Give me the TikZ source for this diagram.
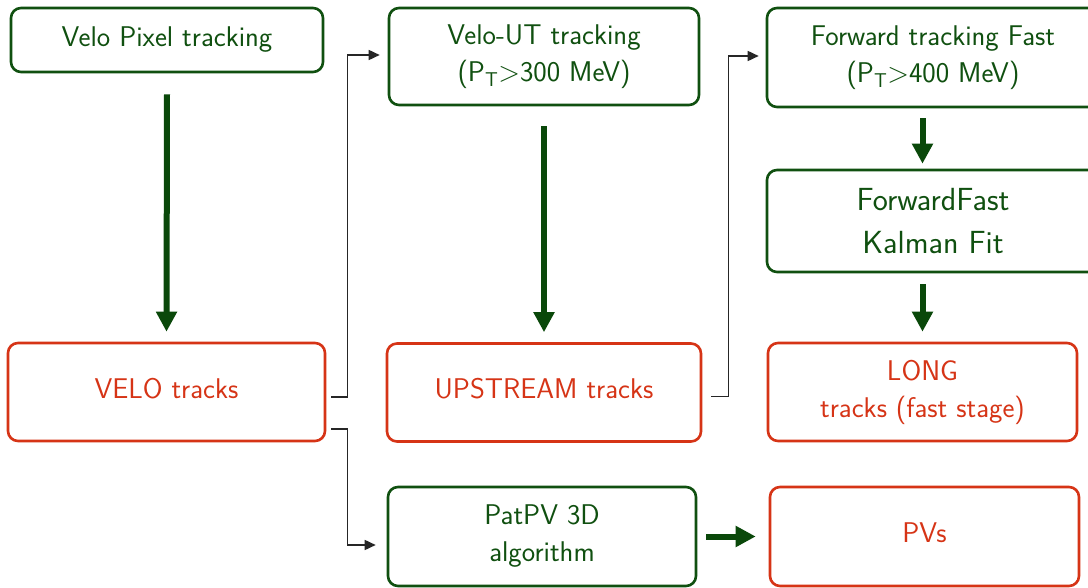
\documentclass[tikz,border=0pt]{standalone}
\usepackage{fontspec}
\usetikzlibrary{arrows.meta,calc}
\definecolor{dkgreen}{RGB}{16,80,16}
\definecolor{arrgreen}{RGB}{10,72,10}
\definecolor{trkred}{RGB}{214,52,22}
\begin{document}
\begin{tikzpicture}[x=1pt,y=-1pt,
  box/.style={draw, line width=2.6pt, rounded corners=10pt, align=center, inner sep=0pt,
    font=\sffamily\fontsize{28.5}{37}\selectfont},
  gbox/.style={box, draw=dkgreen, text=dkgreen},
  rbox/.style={box, draw=trkred, text=trkred},
  garrow/.style={draw=arrgreen, line width=6pt, -{Triangle[length=20pt,width=20pt]}},
  conn/.style={draw=black!85, line width=1.6pt, -{Triangle[length=11pt,width=10pt]}}]
\useasboundingbox (0,0) rectangle (1088,588);
\fill[white] (0,0) rectangle (1088,588);
\node[gbox, minimum width=312, minimum height=64] (vpix) at (167,40) {\raisebox{2pt}{Velo Pixel tracking}};
\node[gbox, minimum width=310, minimum height=97] (vut) at (544,56.5) {Velo-UT tracking\\(P\textsubscript{T}>300 MeV)};
\node[gbox, minimum width=332, minimum height=99] (fwd) at (933,57.5) {Forward tracking Fast\\(P\textsubscript{T}>400 MeV)};
\node[gbox, minimum width=332, minimum height=102, font=\sffamily\fontsize{32}{43}\selectfont] (kal) at (933,221) {ForwardFast\\Kalman Fit};
\node[rbox, minimum width=317, minimum height=98] (velo) at (166.5,392) {\raisebox{8pt}{VELO tracks}};
\node[rbox, minimum width=314, minimum height=98] (up) at (544,392.5) {\raisebox{8pt}{UPSTREAM tracks}};
\node[rbox, minimum width=309, minimum height=98] (long) at (922.5,392) {LONG\\tracks (fast stage)};
\node[gbox, minimum width=308, minimum height=99] (pat) at (542,536.5) {PatPV 3D\\algorithm};
\node[rbox, minimum width=309, minimum height=99] (pv) at (924.5,536.5) {\raisebox{8pt}{PVs}};
% green arrows
\draw[garrow] ([yshift=-21]vpix.south) -- ([yshift=10]velo.north);
\draw[garrow] ([yshift=-20]vut.south) -- ([yshift=10]up.north);
\draw[garrow] ([yshift=-10]fwd.south -| long.north) -- ([yshift=5]kal.north -| long.north);
\draw[garrow] ([yshift=-11]kal.south -| long.north) -- ([yshift=10]long.north);
\draw[garrow] ([xshift=9]pat.east) -- ([xshift=-13]pv.west);
% black connectors
\draw[conn] ([shift={(5,5)}]velo.east) -- ++(16,0) |- ([shift={(-8,-1.5)}]vut.west);
\draw[conn] ([shift={(5,37)}]velo.east) -- ++(16,0) |- ([shift={(-11,8.5)}]pat.west);
\draw[conn] ([shift={(9,4)}]up.east) -- ++(17,0) |- ([shift={(-7,-1.5)}]fwd.west);
\end{tikzpicture}
\end{document}
